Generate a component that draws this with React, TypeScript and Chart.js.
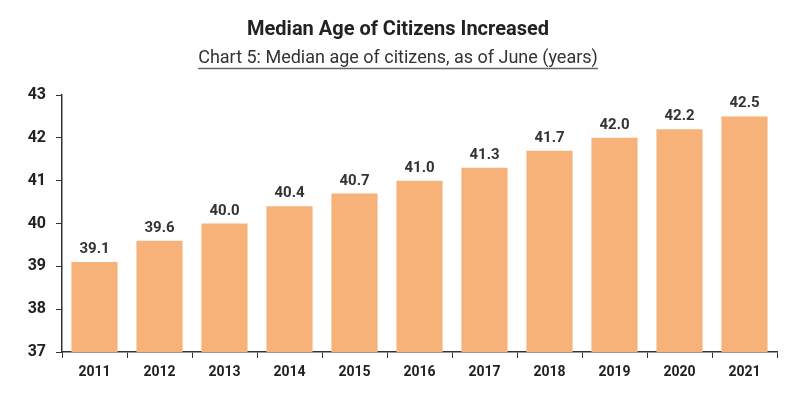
import React, { useEffect, useRef } from "react";
import { Chart, registerables } from "chart.js";

Chart.register(...registerables);

const categories = ["2011", "2012", "2013", "2014", "2015", "2016", "2017", "2018", "2019", "2020", "2021"];
const medianAge = [39.1, 39.6, 40.0, 40.4, 40.7, 41.0, 41.3, 41.7, 42.0, 42.2, 42.5];
const yTicks = [37, 38, 39, 40, 41, 42, 43];
const titleText = "Median Age of Citizens Increased";
const subtitleText = "Chart 5: Median age of citizens, as of June (years)";

const FONT = "Roboto, 'Noto Sans', sans-serif";

export default function App() {
  const ref = useRef<HTMLCanvasElement>(null);
  useEffect(() => {
    document.body.style.margin = "0";
    const ctx = ref.current!.getContext("2d")!;
    const labelPlugin = {
      id: "labels",
      afterDatasetsDraw(chart: any) {
        const c = chart.ctx;
        const meta = chart.getDatasetMeta(0);
        c.save();
        c.font = `bold 15px ${FONT}`;
        c.fillStyle = "#333";
        c.textAlign = "center";
        c.textBaseline = "alphabetic";
        meta.data.forEach((bar: any, i: number) => {
          c.fillText(medianAge[i].toFixed(1), bar.x, bar.y - 9);
        });
        c.restore();
      },
      afterDraw(chart: any) {
        const c = chart.ctx;
        c.save();
        c.textAlign = "center";
        c.textBaseline = "alphabetic";
        c.fillStyle = "#222";
        c.font = `bold 20px ${FONT}`;
        c.fillText(titleText, 398, 35);
        c.fillStyle = "#333";
        c.font = `18px ${FONT}`;
        c.fillText(subtitleText, 398, 63);
        const w = c.measureText(subtitleText).width;
        c.strokeStyle = "#666";
        c.lineWidth = 1.5;
        c.beginPath();
        c.moveTo(398 - w / 2, 68.5);
        c.lineTo(398 + w / 2, 68.5);
        c.stroke();
        c.restore();
      },
    };
    const chart = new Chart(ctx, {
      type: "bar",
      data: {
        labels: categories,
        datasets: [
          {
            data: medianAge,
            backgroundColor: "#F7B27A",
            barPercentage: 0.71,
            categoryPercentage: 1,
          },
        ],
      },
      options: {
        animation: false,
        responsive: false,
        layout: { padding: { top: 95, right: 25, left: 0, bottom: 0 } },
        plugins: { legend: { display: false }, tooltip: { enabled: false }, title: { display: false } },
        scales: {
          x: {
            grid: { drawOnChartArea: false, drawTicks: true, tickLength: 6, color: "#333", offset: true },
            border: { color: "#333", width: 1.5 },
            ticks: { color: "#222", font: { family: FONT, size: 14, weight: "bold" }, padding: 6 },
            afterFit(scale: any) {
              scale.height = 43;
            },
          },
          y: {
            min: 37,
            max: 43,
            afterBuildTicks(scale: any) {
              scale.ticks = yTicks.map((v) => ({ value: v }));
            },
            grid: { drawOnChartArea: false, drawTicks: true, tickLength: 6, color: "#333" },
            border: { color: "#333", width: 1.5 },
            ticks: { color: "#222", font: { family: FONT, size: 16, weight: "bold" }, padding: 10 },
            afterFit(scale: any) {
              scale.width = 62;
            },
          },
        },
      },
      plugins: [labelPlugin],
    });
    return () => chart.destroy();
  }, []);
  return <canvas ref={ref} width={802} height={395} style={{ display: "block" }} />;
}
